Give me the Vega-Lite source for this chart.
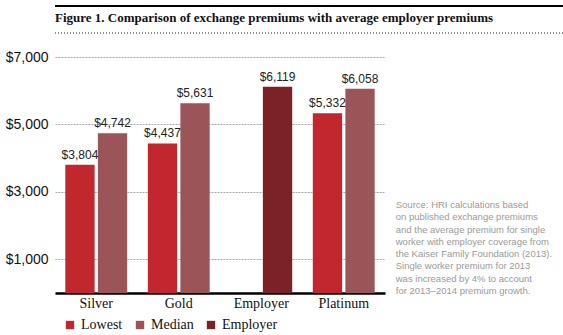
{
  "$schema": "https://vega.github.io/schema/vega-lite/v6.json",
  "padding": {"left": 5, "top": 5, "right": 0, "bottom": 0},
  "background": "white",
  "spacing": 16,
  "config": {"view": {"stroke": null}},
  "resolve": {"scale": {"color": "independent"}, "legend": {"color": "independent"}},
  "vconcat": [
    {
      "width": 550,
      "height": 27,
      "data": {"values": [{"title": "Figure 1. Comparison of exchange premiums with average employer premiums"}]},
      "layer": [
        {
          "mark": {"type": "rule", "color": "#000000", "strokeWidth": 2},
          "encoding": {
            "x": {"datum": 0, "type": "quantitative", "scale": {"domain": [0, 1]}, "axis": null},
            "x2": {"datum": 1},
            "y": {"datum": 1, "type": "quantitative", "scale": {"domain": [0, 1]}, "axis": null}
          }
        },
        {
          "mark": {"type": "rule", "color": "#222222", "strokeWidth": 1, "strokeDash": [1, 2]},
          "encoding": {
            "x": {"datum": 0, "type": "quantitative"},
            "x2": {"datum": 1},
            "y": {"datum": 0, "type": "quantitative"}
          }
        },
        {
          "mark": {"type": "text", "align": "left", "baseline": "middle", "font": "Liberation Serif", "fontSize": 13, "fontWeight": "bold", "color": "#111111", "dy": -2},
          "encoding": {
            "text": {"field": "title"},
            "x": {"datum": 0, "type": "quantitative"},
            "y": {"datum": 0.5, "type": "quantitative"}
          }
        }
      ]
    },
    {
      "width": 330,
      "height": 236,
      "layer": [
        {
          "data": {"values": [
            {"plan": "Silver", "measure": "Lowest", "series": "Lowest", "premium": 3804},
            {"plan": "Silver", "measure": "Median", "series": "Median", "premium": 4742},
            {"plan": "Gold", "measure": "Lowest", "series": "Lowest", "premium": 4437},
            {"plan": "Gold", "measure": "Median", "series": "Median", "premium": 5631},
            {"plan": "Employer", "measure": "Median", "series": "Employer", "premium": 6119},
            {"plan": "Platinum", "measure": "Lowest", "series": "Lowest", "premium": 5332},
            {"plan": "Platinum", "measure": "Median", "series": "Median", "premium": 6058}
          ]},
          "encoding": {
            "x": {
              "field": "plan", "type": "nominal", "sort": ["Silver", "Gold", "Employer", "Platinum"],
              "scale": {"paddingInner": 0.25, "paddingOuter": 0.125},
              "axis": {"title": null, "labelAngle": 0, "ticks": false, "domainColor": "#000000", "domainWidth": 2.5, "labelFont": "Liberation Serif", "labelFontSize": 14, "labelColor": "#111111", "labelPadding": 3, "grid": false}
            },
            "xOffset": {"field": "measure", "type": "nominal", "sort": ["Lowest", "Median"], "scale": {"paddingInner": 0.1}},
            "y": {
              "field": "premium", "type": "quantitative",
              "scale": {"domain": [0, 7000]},
              "axis": {
                "title": null, "values": [1000, 2000, 3000, 4000, 5000, 6000, 7000],
                "labelExpr": "datum.value % 2000 === 1000 ? '$' + format(datum.value, ',') : ''",
                "domain": false, "ticks": false, "labelPadding": 7,
                "labelFont": "Liberation Sans", "labelFontSize": 14, "labelColor": "#111111",
                "grid": true, "gridColor": "#a9a6b6", "gridDash": [2, 1], "gridWidth": 1
              }
            }
          },
          "layer": [
            {
              "mark": {"type": "bar"},
              "encoding": {
                "color": {
                  "field": "series", "type": "nominal",
                  "scale": {"domain": ["Lowest", "Median", "Employer"], "range": ["#c1272d", "#9b5559", "#7b2226"]},
                  "legend": {"title": null, "orient": "bottom", "direction": "horizontal", "symbolType": "square", "symbolSize": 70, "symbolStrokeWidth": 0, "labelFont": "Liberation Serif", "labelFontSize": 14, "labelColor": "#111111", "columnPadding": 10, "offset": 0, "padding": 8}
                }
              }
            },
            {
              "mark": {"type": "text", "baseline": "bottom", "dy": -3, "font": "Liberation Sans", "fontSize": 12, "color": "#222222"},
              "encoding": {
                "text": {"field": "premium", "type": "quantitative", "format": "$,.0f"}
              }
            }
          ]
        },
        {
          "data": {"values": [{"note": "Source: HRI calculations based\non published exchange premiums\nand the average premium for single\nworker with employer coverage from\nthe Kaiser Family Foundation (2013).\nSingle worker premium for 2013\nwas increased by 4% to account\nfor 2013–2014 premium growth."}]},
          "mark": {"type": "text", "align": "left", "baseline": "top", "lineBreak": "\n", "lineHeight": 12.3, "font": "Liberation Sans", "fontSize": 9.5, "color": "#9a9a9a", "dx": 52},
          "encoding": {
            "text": {"field": "note"},
            "x": {"datum": "Platinum", "type": "nominal"},
            "y": {"datum": 2760, "type": "quantitative"}
          }
        }
      ]
    }
  ]
}
